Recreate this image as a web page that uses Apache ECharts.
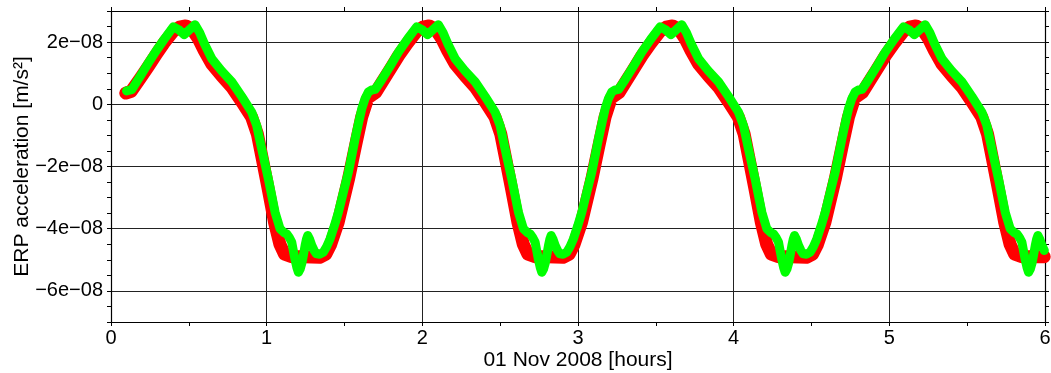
<!DOCTYPE html>
<html>
<head>
<meta charset="utf-8">
<script src="https://cdn.jsdelivr.net/npm/echarts@6/dist/echarts.min.js"></script>
<style>
html,body{margin:0;padding:0;background:#fff;}
#chart{width:1051px;height:373px;}
</style>
</head>
<body>
<div id="chart"></div>
<script>
// Values: [time in hours, acceleration in units of 1e-08 m/s^2]
const green1 = [[0.100,0.43],[0.1335,0.47],[0.19,0.92],[0.24,1.33],[0.29,1.72],[0.34,2.08],[0.40,2.49],[0.435,2.40],[0.47,2.24],[0.505,2.40],[0.54,2.56],[0.57,2.30],[0.60,1.95],[0.647,1.47],[0.71,1.08],[0.776,0.72],[0.84,0.25],[0.904,-0.25],[0.936,-0.68],[0.968,-1.43],[1.011,-2.40],[1.054,-3.47],[1.086,-4.00],[1.11,-4.12],[1.129,-4.17],[1.145,-4.28],[1.161,-4.43],[1.173,-4.75],[1.183,-5.01],[1.194,-5.25],[1.204,-5.40],[1.215,-5.30],[1.225,-5.13],[1.236,-4.85],[1.247,-4.54],[1.255,-4.35],[1.264,-4.22],[1.277,-4.35],[1.29,-4.54],[1.305,-4.70],[1.32,-4.81],[1.34,-4.82],[1.364,-4.76],[1.385,-4.58],[1.407,-4.33],[1.434,-3.92],[1.461,-3.47],[1.493,-2.82],[1.525,-2.18],[1.547,-1.64],[1.568,-1.11],[1.59,-0.60],[1.611,-0.14],[1.632,0.18],[1.654,0.40],[1.675,0.46],[1.697,0.48],[1.74,0.80],[1.79,1.20],[1.847,1.68],[1.905,2.10]];
const green2 = [[1.9635,2.49],[1.9985,2.40],[2.0335,2.24],[2.0685,2.40],[2.1035,2.56],[2.1335,2.30],[2.1635,1.95],[2.2105,1.47],[2.2735,1.08],[2.3395,0.72],[2.4035,0.25],[2.4675,-0.25],[2.4995,-0.68],[2.5315,-1.43],[2.5745,-2.40],[2.6175,-3.47],[2.6495,-4.00],[2.6735,-4.12],[2.6925,-4.17],[2.7085,-4.28],[2.7245,-4.43],[2.7365,-4.75],[2.7465,-5.01],[2.7575,-5.25],[2.7675,-5.40],[2.7785,-5.30],[2.7885,-5.13],[2.7995,-4.85],[2.8105,-4.54],[2.8185,-4.35],[2.8275,-4.22],[2.8405,-4.35],[2.8535,-4.54],[2.8685,-4.70],[2.8835,-4.81],[2.9035,-4.82],[2.9275,-4.76],[2.9485,-4.58],[2.9705,-4.33],[2.9975,-3.92],[3.0245,-3.47],[3.0565,-2.82],[3.0885,-2.18],[3.1105,-1.64],[3.1315,-1.11],[3.1535,-0.60],[3.1745,-0.14],[3.1955,0.18],[3.2175,0.40],[3.2385,0.46],[3.2605,0.48],[3.3035,0.80],[3.3535,1.20],[3.4105,1.68],[3.4685,2.10]];
const green3 = [[3.527,2.49],[3.562,2.40],[3.597,2.24],[3.632,2.40],[3.667,2.56],[3.697,2.30],[3.727,1.95],[3.774,1.47],[3.837,1.08],[3.903,0.72],[3.967,0.25],[4.031,-0.25],[4.063,-0.68],[4.095,-1.43],[4.138,-2.40],[4.181,-3.47],[4.213,-4.00],[4.237,-4.12],[4.256,-4.17],[4.272,-4.28],[4.288,-4.43],[4.300,-4.75],[4.310,-5.01],[4.321,-5.25],[4.331,-5.40],[4.342,-5.30],[4.352,-5.13],[4.363,-4.85],[4.374,-4.54],[4.382,-4.35],[4.391,-4.22],[4.404,-4.35],[4.417,-4.54],[4.432,-4.70],[4.447,-4.81],[4.467,-4.82],[4.491,-4.76],[4.512,-4.58],[4.534,-4.33],[4.561,-3.92],[4.588,-3.47],[4.620,-2.82],[4.652,-2.18],[4.674,-1.64],[4.695,-1.11],[4.717,-0.60],[4.738,-0.14],[4.759,0.18],[4.781,0.40],[4.802,0.46],[4.824,0.48],[4.867,0.80],[4.917,1.20],[4.974,1.68],[5.032,2.10]];
const green4 = [[5.0905,2.49],[5.1255,2.40],[5.1605,2.24],[5.1955,2.40],[5.2305,2.56],[5.2605,2.30],[5.2905,1.95],[5.3375,1.47],[5.4005,1.08],[5.4665,0.72],[5.5305,0.25],[5.5945,-0.25],[5.6265,-0.68],[5.6585,-1.43],[5.7015,-2.40],[5.7445,-3.47],[5.7765,-4.00],[5.8005,-4.12],[5.8195,-4.17],[5.8355,-4.28],[5.8515,-4.43],[5.8635,-4.75],[5.8735,-5.01],[5.8845,-5.25],[5.8945,-5.40],[5.9055,-5.30],[5.9155,-5.13],[5.9265,-4.85],[5.9375,-4.54],[5.9455,-4.35],[5.9545,-4.22],[5.9675,-4.35],[5.9805,-4.54],[5.9955,-4.70]];

const red1 = [[0.095,0.36],[0.13,0.42],[0.19,0.85],[0.24,1.22],[0.29,1.60],[0.34,1.97],[0.40,2.35],[0.44,2.48],[0.48,2.52],[0.52,2.42],[0.56,2.12],[0.60,1.72],[0.647,1.30],[0.71,0.92],[0.776,0.55],[0.84,0.08],[0.904,-0.42],[0.94,-0.95],[0.97,-1.70],[1.01,-2.72],[1.05,-3.78],[1.085,-4.50],[1.115,-4.82],[1.16,-4.90],[1.24,-4.90],[1.34,-4.92],[1.38,-4.82],[1.41,-4.52],[1.46,-3.78],[1.525,-2.42],[1.57,-1.35],[1.61,-0.42],[1.65,0.20],[1.70,0.38],[1.74,0.70],[1.79,1.10],[1.847,1.56],[1.905,1.97]];
const red2 = [[1.9635,2.35],[2.0035,2.48],[2.0435,2.52],[2.0835,2.42],[2.1235,2.12],[2.1635,1.72],[2.2105,1.30],[2.2735,0.92],[2.3395,0.55],[2.4035,0.08],[2.4675,-0.42],[2.5035,-0.95],[2.5335,-1.70],[2.5735,-2.72],[2.6135,-3.78],[2.6485,-4.50],[2.6785,-4.82],[2.7235,-4.90],[2.8035,-4.90],[2.9035,-4.92],[2.9435,-4.82],[2.9735,-4.52],[3.0235,-3.78],[3.0885,-2.42],[3.1335,-1.35],[3.1735,-0.42],[3.2135,0.20],[3.2635,0.38],[3.3035,0.70],[3.3535,1.10],[3.4105,1.56],[3.4685,1.97]];
const red3 = [[3.527,2.35],[3.567,2.48],[3.607,2.52],[3.647,2.42],[3.687,2.12],[3.727,1.72],[3.774,1.30],[3.837,0.92],[3.903,0.55],[3.967,0.08],[4.031,-0.42],[4.067,-0.95],[4.097,-1.70],[4.137,-2.72],[4.177,-3.78],[4.212,-4.50],[4.242,-4.82],[4.287,-4.90],[4.367,-4.90],[4.467,-4.92],[4.507,-4.82],[4.537,-4.52],[4.587,-3.78],[4.652,-2.42],[4.697,-1.35],[4.737,-0.42],[4.777,0.20],[4.827,0.38],[4.867,0.70],[4.917,1.10],[4.974,1.56],[5.032,1.97]];
const red4 = [[5.0905,2.35],[5.1305,2.48],[5.1705,2.52],[5.2105,2.42],[5.2505,2.12],[5.2905,1.72],[5.3375,1.30],[5.4005,0.92],[5.4665,0.55],[5.5305,0.08],[5.5945,-0.42],[5.6305,-0.95],[5.6605,-1.70],[5.7005,-2.72],[5.7405,-3.78],[5.7755,-4.50],[5.8055,-4.82],[5.8505,-4.90],[5.9305,-4.90],[5.995,-4.90]];

const xMajorLabels = [0, 1, 2, 3, 4, 5, 6];
const yMajorLabels = [-6, -4, -2, 0, 2];
const xAxisName = '01 Nov 2008 [hours]';
const yAxisName = 'ERP acceleration [m/s\u00B2]';

const FONT = '"Liberation Sans", Arial, Helvetica, sans-serif';
const FS = 20;
const FS_NAME = 21;
const greenData = green1.concat(green2, green3, green4);
const redData = red1.concat(red2, red3, red4);

function yLabel(v) {
  if (!yMajorLabels.some(m => Math.abs(m - v) < 1e-9)) return '';
  if (Math.abs(v) < 1e-9) return '0';
  return (v < 0 ? '\u2212' : '') + Math.abs(v) + 'e\u221208';
}
function xLabel(v) {
  return xMajorLabels.some(m => Math.abs(m - v) < 1e-9) ? String(v) : '';
}

const chart = echarts.init(document.getElementById('chart'), null, {renderer: 'canvas'});
const axisLineStyle = {color: '#000', width: 1.2};
const tickStyle = {color: '#000', width: 1};
chart.setOption({
  animation: false,
  backgroundColor: '#fff',
  grid: {left: 111, right: 6, top: 11, bottom: 51, containLabel: false, outerBoundsMode: 'none'},
  xAxis: [
    {
      type: 'value', min: 0, max: 6, interval: 0.5, position: 'bottom',
      axisLine: {show: true, onZero: false, lineStyle: axisLineStyle},
      axisTick: {show: true, inside: false, length: 4, lineStyle: tickStyle},
      axisLabel: {formatter: xLabel, fontSize: FS, color: '#000', fontFamily: FONT, margin: 6, showMinLabel: true, showMaxLabel: true},
      splitLine: {show: true, showMinLine: true, showMaxLine: true, lineStyle: {color: ['#222', 'rgba(0,0,0,0)'], width: 1}},
      name: xAxisName, nameLocation: 'middle', nameGap: 28, nameMoveOverlap: false,
      nameTextStyle: {fontSize: FS_NAME, color: '#000', fontFamily: FONT}
    },
    {
      type: 'value', min: 0, max: 6, interval: 0.5, position: 'top',
      axisLine: {show: true, onZero: false, lineStyle: axisLineStyle},
      axisTick: {show: true, inside: false, length: 4, lineStyle: tickStyle},
      axisLabel: {show: false}, splitLine: {show: false}
    }
  ],
  yAxis: [
    {
      type: 'value', min: -7, max: 3, interval: 0.5, position: 'left',
      axisLine: {show: true, onZero: false, lineStyle: axisLineStyle},
      axisTick: {show: true, inside: false, length: 4, lineStyle: tickStyle},
      axisLabel: {formatter: yLabel, fontSize: FS, color: '#000', fontFamily: FONT, margin: 8, showMinLabel: true, showMaxLabel: true},
      splitLine: {show: true, showMinLine: true, showMaxLine: true, lineStyle: {color: ['rgba(0,0,0,0)', 'rgba(0,0,0,0)', '#222', 'rgba(0,0,0,0)'], width: 1}},
      name: yAxisName, nameLocation: 'middle', nameGap: 78, nameMoveOverlap: false,
      nameTextStyle: {fontSize: FS_NAME, color: '#000', fontFamily: FONT}
    },
    {
      type: 'value', min: -7, max: 3, interval: 0.5, position: 'right',
      axisLine: {show: true, onZero: false, lineStyle: axisLineStyle},
      axisTick: {show: true, inside: false, length: 4, lineStyle: tickStyle},
      axisLabel: {show: false}, splitLine: {show: false}
    }
  ],
  series: [
    {
      name: 'red', type: 'line', xAxisIndex: 0, yAxisIndex: 0, data: redData,
      showSymbol: false, symbol: 'none', smooth: false, z: 2, silent: true,
      lineStyle: {color: '#ff0000', width: 13, cap: 'round', join: 'round'}
    },
    {
      name: 'green', type: 'line', xAxisIndex: 0, yAxisIndex: 0, data: greenData,
      showSymbol: false, symbol: 'none', smooth: false, z: 3, silent: true,
      lineStyle: {color: '#00ff00', width: 9, cap: 'round', join: 'round'}
    }
  ]
});
</script>
</body>
</html>
